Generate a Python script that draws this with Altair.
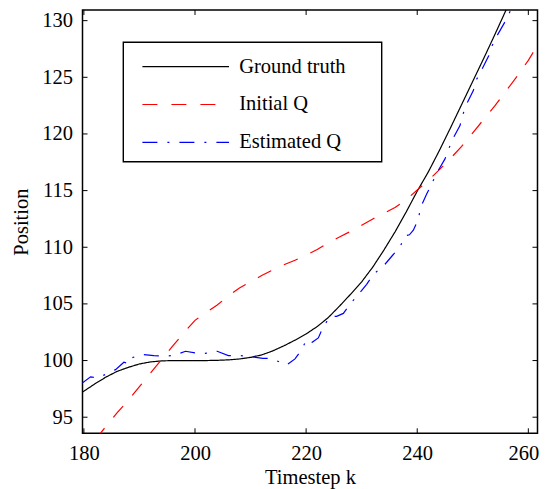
import altair as alt
import pandas as pd

# ---------------- data ----------------
x_ticks = [180, 200, 220, 240, 260]
y_ticks = [95, 100, 105, 110, 115, 120, 125, 130]
x_domain = [179.75, 261.65]
y_domain = [93.58, 130.94]

series_names = ["Ground truth", "Initial Q", "Estimated Q"]
series_colors = ["#000000", "#ff0000", "#0000ff"]
series_dashes = [[1, 0], [15, 14], [15, 10, 2, 10]]

gt_k = [179, 180, 182, 184, 186, 188, 190, 192, 194, 196, 198, 200, 202, 204,
        206, 208, 210, 212, 214, 216, 218, 220, 222, 224, 226, 228, 230, 232,
        234, 236, 238, 240, 242, 244, 246, 248, 250, 252, 254, 256, 258]
gt_pos = [96.95, 97.3, 97.95, 98.55, 99.05, 99.4, 99.7, 99.88, 99.97, 100.0,
          100.0, 100.0, 100.0, 100.02, 100.06, 100.14, 100.28, 100.5, 100.85,
          101.3, 101.8, 102.35, 103.0, 103.8, 104.8, 105.85, 106.95, 108.25,
          109.75, 111.35, 113.1, 114.95, 116.65, 118.55, 120.55, 122.6, 124.65,
          126.7, 128.8, 130.95, 133.1]

iq_k = [182, 184, 186, 188, 190, 192, 194, 196, 198, 200, 202, 204, 206, 208,
        210, 212, 214, 216, 218, 220, 222, 224, 226, 228, 230, 232, 234, 236,
        238, 240, 242, 244, 246, 248, 250, 252, 254, 256, 258, 260, 262, 263]
iq_pos = [93.0, 94.2, 95.4, 96.5, 97.7, 98.9, 100.1, 101.3, 102.45, 103.55,
          104.25, 104.9, 105.7, 106.4, 106.95, 107.5, 108.0, 108.45, 108.85,
          109.3, 109.8, 110.4, 110.9, 111.4, 111.95, 112.5, 113.0, 113.5,
          114.2, 115.05, 115.9, 116.85, 117.85, 118.9, 120.1, 121.3, 122.5,
          123.8, 125.1, 126.5, 128.1, 128.9]

eq_k = [179.5, 181.2, 182.4, 184.0, 185.7, 187.2, 188.1, 188.6, 190.5, 192.6,
        194.7, 196.5, 198.3, 201.0, 202.8, 204.0, 206.0, 208.0, 210.0, 212.2,
        213.8, 215.9, 216.5, 218.0, 219.2, 220.1, 221.1, 222.2, 223.1, 224.3,
        225.5, 226.7, 227.9, 229.4, 230.9, 232.1, 234.2, 235.5, 236.9, 237.8,
        238.6, 239.3, 240.2, 240.6, 241.7, 242.6, 243.4, 245.0, 245.6, 246.4,
        247.7, 248.2, 248.9, 250.1, 250.7, 251.7, 252.9, 253.5, 254.4, 255.8,
        256.6, 257.5]
eq_pos = [97.95, 98.56, 98.47, 98.8, 99.2, 99.85, 99.73, 100.24, 100.53, 100.44,
          100.38, 100.5, 100.82, 100.6, 100.68, 100.82, 100.44, 100.44, 100.35,
          100.2, 100.18, 99.73, 99.6, 100.15, 100.97, 101.86, 101.62, 102.0,
          102.98, 103.87, 103.9, 104.16, 104.96, 105.84, 106.73, 107.6, 108.5,
          109.25, 110.03, 111.0, 111.1, 111.5, 112.48, 113.5, 114.7, 115.58,
          116.46, 117.8, 118.6, 119.56, 120.74, 121.7, 122.65, 123.83, 124.83,
          125.75, 126.93, 127.8, 128.7, 129.9, 130.7, 131.6]

# ---------------- build tables ----------------
rows = []
for name, ks, ps in zip(series_names, [gt_k, iq_k, eq_k], [gt_pos, iq_pos, eq_pos]):
    for i, (k, p) in enumerate(zip(ks, ps)):
        rows.append({"k": k, "pos": p, "series": name, "i": i})
df = pd.DataFrame(rows)
xt = pd.DataFrame({"t": x_ticks})
yt = pd.DataFrame({"t": y_ticks})

W, H = 455, 423.3
TICK = 5
FONT = "Liberation Serif"
FS = 20.5

xscale = alt.Scale(domain=x_domain, nice=False, zero=False)
yscale = alt.Scale(domain=y_domain, nice=False, zero=False)

x_axis = alt.Axis(values=x_ticks, title="Timestep k", ticks=False, domain=False,
                  grid=False, labelFlush=False, labelOverlap=False,
                  labelPadding=10.5, titlePadding=3.6,
                  labelOffset={"condition": {"test": "datum.value >= 260", "value": -5},
                               "value": 0})
y_axis = alt.Axis(values=y_ticks, title="Position", ticks=False, domain=False,
                  grid=False, labelFlush=False, labelOverlap=False,
                  labelPadding=10, titlePadding=10.5)

legend = alt.Legend(title=None)

# legend frame (decoration)
frame = alt.Chart(pd.DataFrame({"a": [0]})).mark_rect(
    fill="white", stroke="black", strokeWidth=1.4
).encode(x=alt.value(40.8), x2=alt.value(299.2), y=alt.value(32.3), y2=alt.value(151.7))

lines = alt.Chart(df).mark_line(clip=True, strokeWidth=1.2).encode(
    x=alt.X("k:Q", scale=xscale, axis=x_axis),
    y=alt.Y("pos:Q", scale=yscale, axis=y_axis),
    color=alt.Color("series:N", scale=alt.Scale(domain=series_names, range=series_colors),
                    sort=series_names, legend=legend),
    strokeDash=alt.StrokeDash("series:N", scale=alt.Scale(domain=series_names, range=series_dashes),
                              sort=series_names, legend=legend),
    order="i:Q",
)

tick_style = dict(color="black", strokeWidth=1)
bottom_ticks = alt.Chart(xt).mark_rule(**tick_style).encode(
    x=alt.X("t:Q", scale=xscale, axis=x_axis), y=alt.value(H), y2=alt.value(H - TICK))
top_ticks = alt.Chart(xt).mark_rule(**tick_style).encode(
    x=alt.X("t:Q", scale=xscale, axis=x_axis), y=alt.value(0), y2=alt.value(TICK))
left_ticks = alt.Chart(yt).mark_rule(**tick_style).encode(
    y=alt.Y("t:Q", scale=yscale, axis=y_axis), x=alt.value(0), x2=alt.value(TICK))
right_ticks = alt.Chart(yt).mark_rule(**tick_style).encode(
    y=alt.Y("t:Q", scale=yscale, axis=y_axis), x=alt.value(W), x2=alt.value(W - TICK))

chart = alt.layer(frame, lines, bottom_ticks, top_ticks, left_ticks, right_ticks).properties(
    width=W, height=H,
    padding={"left": 74.5, "top": 2, "right": 1.5, "bottom": 60},
    autosize=alt.AutoSizeParams(type="none"),
).configure(
    font=FONT,
).configure_view(
    stroke="black", strokeWidth=1.5,
).configure_axis(
    labelFont=FONT, titleFont=FONT, labelFontSize=FS, titleFontSize=FS,
    labelColor="black", titleColor="black", titleFontWeight="normal",
).configure_legend(
    orient="none", legendX=59.2, legendY=46.7,
    padding=0, rowPadding=16.8, labelOffset=9.5, clipHeight=20,
    symbolType="stroke", symbolSize=7500, symbolStrokeWidth=1.2,
    labelFont=FONT, labelFontSize=FS, labelColor="black", labelLimit=0,
)

chart.save("out.html", embed_options={"renderer": "svg", "actions": False})
